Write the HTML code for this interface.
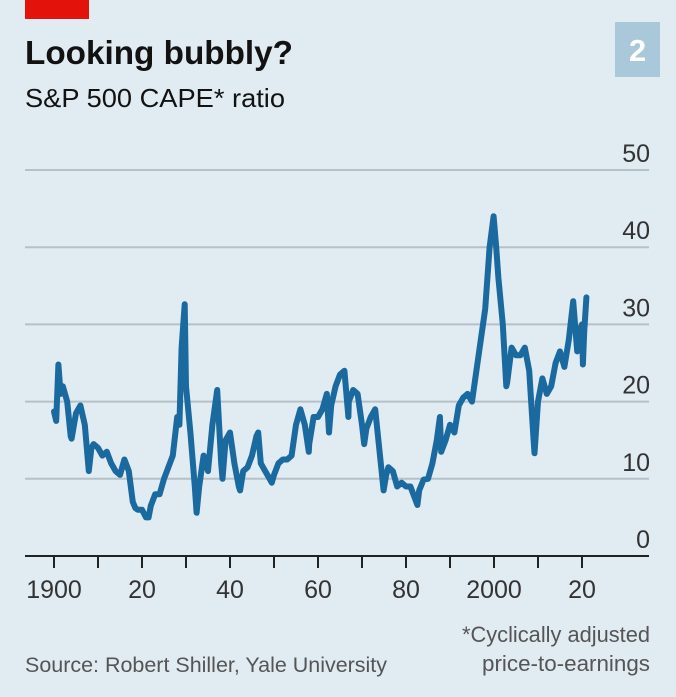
<!DOCTYPE html>
<html><head><meta charset="utf-8"><style>
body{margin:0;background:#e1ebf2;}
svg{display:block;font-family:"Liberation Sans",sans-serif;}
</style></head><body>
<svg width="676" height="697" viewBox="0 0 676 697">
<rect x="0" y="0" width="676" height="697" fill="#e1ebf2"/>
<rect x="25" y="0" width="64" height="19" fill="#e3120b"/>
<rect x="615" y="22" width="45" height="55" fill="#a9c8d9"/>
<text x="637.5" y="61" text-anchor="middle" font-size="31" font-weight="bold" fill="#fff">2</text>
<text x="25" y="64" font-size="33" font-weight="bold" fill="#121212" textLength="268" lengthAdjust="spacingAndGlyphs">Looking bubbly?</text>
<text x="25" y="107" font-size="26" fill="#121212" textLength="260" lengthAdjust="spacingAndGlyphs">S&amp;P 500 CAPE* ratio</text>
<g id="grid"></g>
<g id="xaxis"></g>
<path id="line" fill="none" stroke="#1a6aa0" stroke-width="6" stroke-linejoin="round" stroke-linecap="round"/>
<text x="25" y="672" font-size="21.5" fill="#555" textLength="362" lengthAdjust="spacingAndGlyphs">Source: Robert Shiller, Yale University</text>
<text x="650" y="642" text-anchor="end" font-size="22" fill="#555" textLength="188" lengthAdjust="spacingAndGlyphs">*Cyclically adjusted</text>
<text x="650" y="671" text-anchor="end" font-size="22" fill="#555" textLength="168" lengthAdjust="spacingAndGlyphs">price-to-earnings</text>
</svg>
<script>
const yTicks=[0,10,20,30,40,50];
const xTickYears=[1900,1910,1920,1930,1940,1950,1960,1970,1980,1990,2000,2010,2020];
const xLabelYears=[1900,1920,1940,1960,1980,2000,2020];
const xLabels=["1900","20","40","60","80","2000","20"];
const years=[1900,1900.5,1901,1901.5,1902,1903,1903.8,1904,1905,1906,1907,1907.9,1908.5,1909,1910,1911,1912,1913,1914,1915,1916,1917,1917.9,1918.5,1919,1920,1920.9,1921.5,1922,1923,1924,1925,1926,1927,1928,1928.5,1929,1929.7,1930,1931,1932,1932.4,1933,1934,1935,1936,1937.1,1938,1938.3,1939,1940,1941,1942,1942.3,1943,1944,1945,1946,1946.4,1947,1948,1949,1949.5,1950,1951,1952,1953,1954,1955,1956,1957,1957.9,1958,1959,1960,1961,1962,1962.5,1963,1964,1965,1966,1966.9,1967,1968,1969,1970,1970.5,1971,1972,1973,1974,1974.9,1975.5,1976,1977,1978,1979,1980,1981,1982,1982.6,1983,1984,1985,1986,1987,1987.7,1988,1989,1990,1991,1992,1993,1994,1995,1996,1997,1998,1999,1999.9,2000.5,2001,2002,2002.8,2003,2004,2005,2006,2007,2008,2009,2009.2,2010,2011,2012,2013,2014,2015,2016,2017,2018,2018.9,2019,2020,2020.2,2020.5,2021];
const values=[18.7,17.5,24.8,21,22,20,15.5,15.2,18.5,19.5,17,11,14,14.5,14,13,13.5,12,11,10.5,12.5,11,7,6.2,6,6,5,5,6.5,8,8,10,11.5,13,18,17,27,32.6,22,16,9,5.6,9,13,11,17,21.5,12,10,15,16,12,9,8.5,11,11.5,13,15.5,16,12,11,10,9.5,10.5,12,12.5,12.5,13,17,19,17,13.5,14.5,18,18,19,21,16,19.5,22,23.5,24,18,20,21.5,21,17,14.5,16.5,18,19,13.5,8.5,10.5,11.5,11,9,9.5,9,9,7.5,6.6,8.5,9.9,10,12,15,18,13.5,15,17,16,19.5,20.5,21,20,24,28,32,40,44,40,36,30,22,22.5,27,26,26,27,24,15,13.3,20,23,21,22,25,26.5,24.5,28,33,26.5,28.5,30,24.8,29,33.5];
const X=y=>54+(y-1900)*4.4;
const Y=v=>556-v*7.72;
const NS="http://www.w3.org/2000/svg";
const grid=document.getElementById('grid');
yTicks.forEach(t=>{
  if(t>0){
    const l=document.createElementNS(NS,'line');
    l.setAttribute('x1',25);l.setAttribute('x2',649);
    l.setAttribute('y1',Y(t));l.setAttribute('y2',Y(t));
    l.setAttribute('stroke','#b5c1c9');l.setAttribute('stroke-width','2');
    
    
    grid.appendChild(l);
  }
  const tx=document.createElementNS(NS,'text');
  tx.setAttribute('x',650);tx.setAttribute('y',Y(t)-8);
  tx.setAttribute('text-anchor','end');tx.setAttribute('font-size','25');tx.setAttribute('fill','#333');
  tx.textContent=t;
  
  
  grid.appendChild(tx);
});
const xa=document.getElementById('xaxis');
const ax=document.createElementNS(NS,'line');
ax.setAttribute('x1',25);ax.setAttribute('x2',649);ax.setAttribute('y1',556);ax.setAttribute('y2',556);
ax.setAttribute('stroke','#222');ax.setAttribute('stroke-width','2');


xa.appendChild(ax);
xTickYears.forEach(yr=>{
  const l=document.createElementNS(NS,'line');
  l.setAttribute('x1',X(yr));l.setAttribute('x2',X(yr));l.setAttribute('y1',556);l.setAttribute('y2',568);
  l.setAttribute('stroke','#222');l.setAttribute('stroke-width','2');
  
  
  xa.appendChild(l);
});
xLabelYears.forEach((yr,i)=>{
  const tx=document.createElementNS(NS,'text');
  tx.setAttribute('x',X(yr));tx.setAttribute('y',598);
  tx.setAttribute('text-anchor','middle');tx.setAttribute('font-size','25');tx.setAttribute('fill','#333');
  tx.textContent=xLabels[i];
  
  
  xa.appendChild(tx);
});
document.getElementById('line').setAttribute('d',years.map((y,i)=>(i?'L':'M')+X(y).toFixed(1)+','+Y(values[i]).toFixed(1)).join(''));
</script>
</body></html>
